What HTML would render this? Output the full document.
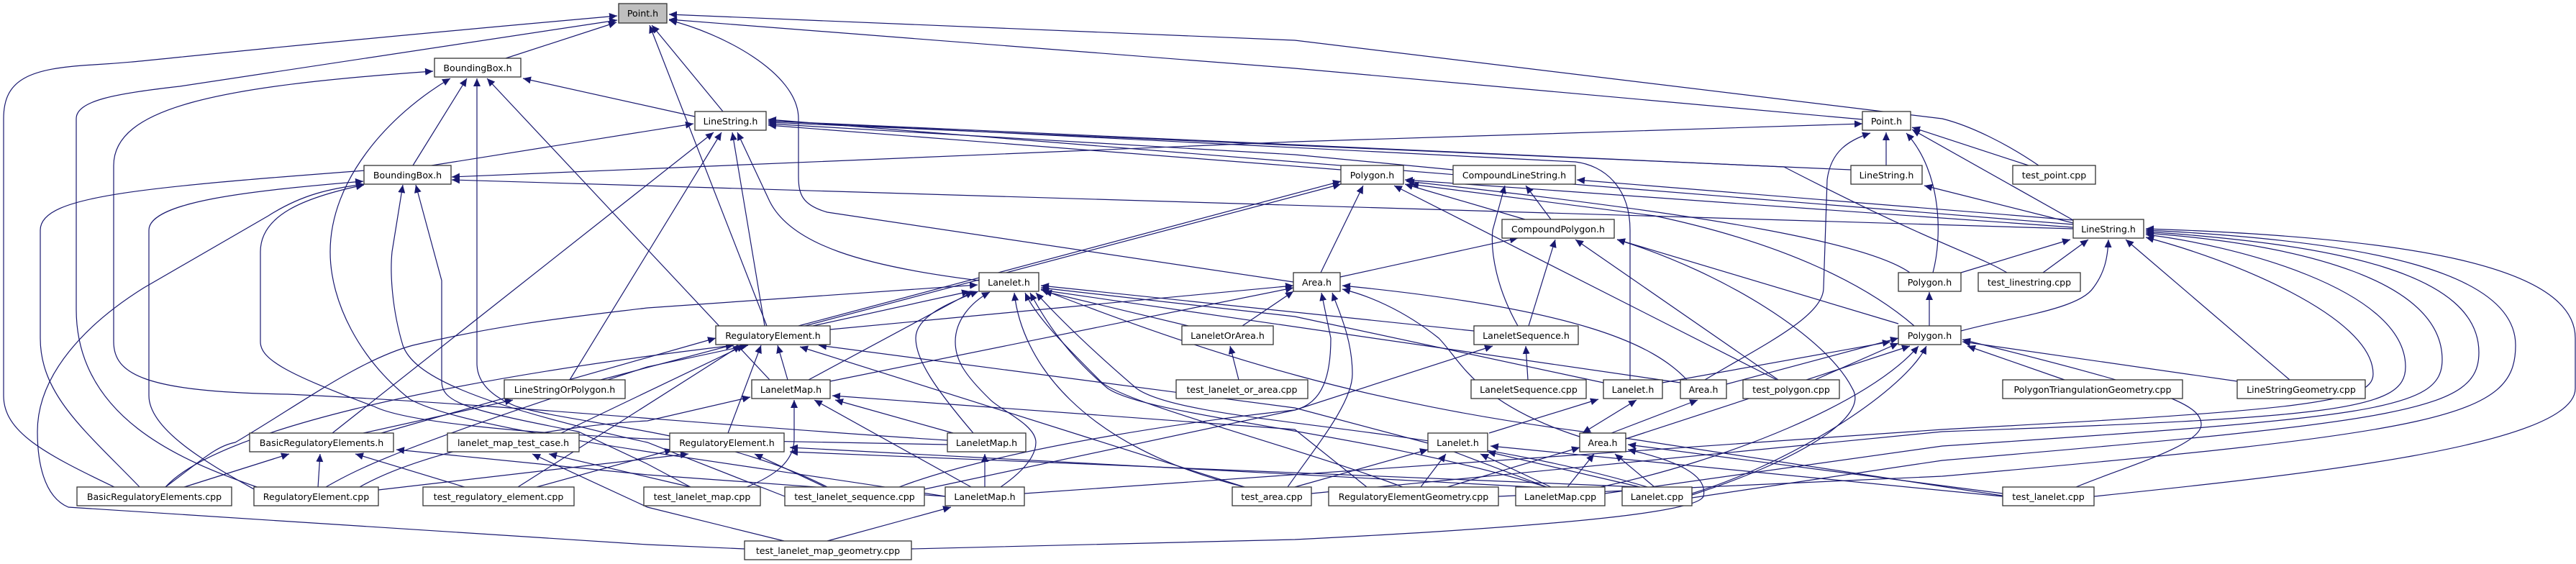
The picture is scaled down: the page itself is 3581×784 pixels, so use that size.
<!DOCTYPE html>
<html><head><meta charset="utf-8"><style>
html,body{margin:0;padding:0;background:#fff;}
svg{display:block;}
text{font-family:"DejaVu Sans","Liberation Sans",sans-serif;font-size:12.6px;fill:#000;}
</style></head><body>
<svg width="3581" height="784" viewBox="0 0 3581 784" xmlns="http://www.w3.org/2000/svg">
<defs>
<marker id="a" markerUnits="userSpaceOnUse" markerWidth="12" markerHeight="10" refX="11" refY="5" orient="auto"><path d="M0,0 L11,5 L0,10 z" fill="#191970"/></marker>
<marker id="s" markerUnits="userSpaceOnUse" markerWidth="12" markerHeight="10" refX="1" refY="5" orient="auto"><path d="M12,0 L1,5 L12,10 z" fill="#191970"/></marker>
</defs>
<g fill="none" stroke="#191970" stroke-width="1.2" marker-end="url(#a)">
<path d="M703,81 L857,31"/>
<path d="M1005,155 L906,35"/>
<path d="M1066,453 L903,35"/>
<path d="M1798,392 L1150,295 C1115,285 1110,270 1110,245 L1110,165 C1110,100 1000,45 930,28"/>
<path d="M2589,166 L1800,95 L930,27"/>
<path d="M2834,230 C2790,200 2740,175 2700,165 L1800,56 L930,20"/>
<path d="M161,678 C60,630 5,600 5,550 L5,165 C5,110 40,95 130,90 C220,85 230,78 858,22"/>
<path d="M360,678 C250,640 106,580 106,430 L106,165 C106,140 160,130 250,120 L858,28"/>
<path d="M966,162 L727,109"/>
<path d="M574,230 L649,109"/>
<path d="M1070,528 L677,109"/>
<path d="M1317,612 C1000,592 700,562 400,548 C200,545 158,520 158,475 L158,230 C158,150 300,120 602,99"/>
<path d="M1314,690 C1000,640 650,600 570,555 C500,500 459,420 459,350 C459,250 540,160 626,109"/>
<path d="M1150,677 C1000,600 800,590 718,565 C680,550 663,530 663,505 L663,109"/>
<path d="M195,678 C120,600 56,550 56,470 L56,320 C56,270 200,260 600,230 L964,172"/>
<path d="M462,602 L992,184"/>
<path d="M792,528 L1003,184"/>
<path d="M1063,453 L1018,184"/>
<path d="M1361,390 C1200,370 1100,340 1070,280 L1025,184"/>
<path d="M2573,236 L1068,170"/>
<path d="M2882,312 L1068,166"/>
<path d="M2790,379 C2740,350 2700,345 2480,232 L1068,168"/>
<path d="M2266,528 L2266,320 C2266,260 2230,230 2190,225 L1068,168"/>
<path d="M2020,236 L1800,215 L1068,172"/>
<path d="M1864,236 L1068,174"/>
<path d="M353,680 C300,650 207,600 207,550 L207,320 C207,280 350,265 505,252"/>
<path d="M1035,763 L900,757 L95,705 C60,690 52,640 52,600 C52,520 120,450 200,400 L373,300 C420,270 460,262 506,256"/>
<path d="M1317,618 L900,610 C700,600 560,585 520,565 C400,520 362,500 362,475 L362,350 C362,300 420,275 506,257"/>
<path d="M1091,690 L900,615 C650,560 574,520 560,480 C545,430 542,380 545,350 L560,257"/>
<path d="M960,677 L900,645 L804,600 C650,570 614,560 614,530 L614,390 L578,257"/>
<path d="M2589,172 L1800,197 L628,246" marker-start="url(#s)"/>
<path d="M2882,318 L628,250"/>
<path d="M1110,453 L1864,252"/>
<path d="M835,528 L1864,256"/>
<path d="M1836,379 L1895,258"/>
<path d="M2882,316 L1953,250"/>
<path d="M2661,453 C2600,400 2489,340 2300,300 L1961,256"/>
<path d="M2470,528 L1938,258"/>
<path d="M2120,305 L1953,256"/>
<path d="M2655,379 C2600,340 2400,300 1955,252"/>
<path d="M2110,453 C2080,400 2072,350 2075,320 L2092,258"/>
<path d="M2156,305 L2121,258"/>
<path d="M2882,306 L2192,250"/>
<path d="M1863,385 L2110,331"/>
<path d="M2125,453 L2162,333"/>
<path d="M2472,528 L2190,333"/>
<path d="M2352,688 C2500,640 2600,580 2575,540 C2540,470 2400,380 2248,333"/>
<path d="M2639,450 L2248,333"/>
<path d="M1130,453 L1348,405"/>
<path d="M1124,528 L1353,405"/>
<path d="M230,677 C280,640 300,620 327,615 C420,560 500,500 574,480 C700,450 800,440 900,428 L1359,396"/>
<path d="M1353,602 C1300,540 1273,500 1273,470 C1273,440 1320,420 1360,405"/>
<path d="M1391,677 C1430,650 1440,630 1440,615 C1440,590 1390,570 1376,555 C1340,520 1328,500 1328,475 C1328,445 1350,420 1376,406"/>
<path d="M1652,453 L1451,405"/>
<path d="M2049,460 L1447,397"/>
<path d="M2229,532 L1800,440 L1447,400"/>
<path d="M2336,532 L1447,403"/>
<path d="M1730,677 C1500,620 1420,500 1410,407"/>
<path d="M1950,677 C1800,620 1560,560 1530,530 C1480,480 1440,440 1425,407"/>
<path d="M2150,677 C1900,600 1600,580 1540,540 C1480,490 1450,440 1432,407"/>
<path d="M2290,677 C2000,590 1650,590 1580,540 C1510,480 1470,440 1440,407"/>
<path d="M2790,690 L2200,600 C1900,560 1700,500 1447,402"/>
<path d="M1727,453 L1798,405"/>
<path d="M1154,458 L1798,397"/>
<path d="M1154,530 L1798,400"/>
<path d="M1250,677 C1400,620 1700,580 1800,570 C1840,560 1850,520 1850,470 L1837,407"/>
<path d="M1790,677 C1830,620 1880,560 1880,520 C1880,470 1860,430 1852,407"/>
<path d="M2196,607 C2050,560 2030,500 2000,470 C1950,430 1900,410 1866,402"/>
<path d="M2345,528 C2300,480 2200,430 1866,397"/>
<path d="M253,678 L402,631"/>
<path d="M442,678 L445,631"/>
<path d="M649,678 L494,631"/>
<path d="M1314,690 L900,660 L551,625"/>
<path d="M505,602 L713,556"/>
<path d="M1090,752 L900,705 L740,631"/>
<path d="M960,677 L763,631"/>
<path d="M780,602 L1035,480"/>
<path d="M526,681 L957,631"/>
<path d="M453,677 C500,650 560,620 900,510 L1040,480"/>
<path d="M230,677 C300,600 600,530 1020,480"/>
<path d="M720,677 L1030,480"/>
<path d="M530,602 L995,470"/>
<path d="M1095,528 L1081,480"/>
<path d="M1012,602 L1058,480"/>
<path d="M2150,677 L2000,620 L1800,567 L1138,480"/>
<path d="M1730,677 L1112,482"/>
<path d="M1350,677 L1132,556"/>
<path d="M1038,677 C1080,660 1104,640 1104,610 L1104,556"/>
<path d="M1325,602 L1161,556"/>
<path d="M1900,677 L1800,597 L1157,550"/>
<path d="M500,677 C600,620 800,590 900,585 L1043,552"/>
<path d="M2130,677 L1098,622"/>
<path d="M2280,677 L1098,628"/>
<path d="M1147,677 L1049,631"/>
<path d="M746,677 L935,625"/>
<path d="M1369,677 L1369,631"/>
<path d="M2070,602 L2222,555"/>
<path d="M1285,680 L1800,570 L2075,481"/>
<path d="M2124,528 L2121,481"/>
<path d="M2200,602 L2275,556" marker-start="url(#s)"/>
<path d="M2240,602 L2360,556"/>
<path d="M2179,677 L2216,631"/>
<path d="M2012,677 L2196,622"/>
<path d="M2300,677 L2245,631"/>
<path d="M2784,686 L2263,618"/>
<path d="M1267,763 L1800,750 C2200,730 2360,710 2368,690 C2375,660 2330,640 2263,625"/>
<path d="M1800,677 L1985,625"/>
<path d="M1975,677 L2010,631"/>
<path d="M2156,677 L2058,631"/>
<path d="M2280,677 L2068,628"/>
<path d="M2784,690 L2072,620"/>
<path d="M2400,534 L2639,470"/>
<path d="M2370,528 C2450,480 2535,440 2535,400 L2540,250 C2545,210 2570,195 2600,185"/>
<path d="M2523,528 L2639,477"/>
<path d="M2311,532 L2628,475"/>
<path d="M2260,610 L2655,481"/>
<path d="M2225,677 C2400,640 2600,560 2667,481"/>
<path d="M2352,686 C2500,640 2650,540 2678,481"/>
<path d="M2870,528 L2735,481"/>
<path d="M3110,530 L2728,475"/>
<path d="M2886,677 C2950,650 3060,620 3060,590 C3060,560 3000,540 2728,472"/>
<path d="M2682,453 L2682,406"/>
<path d="M2726,460 C2800,440 2890,430 2910,400 C2925,380 2930,360 2931,333"/>
<path d="M2726,379 L2878,333"/>
<path d="M2687,379 C2700,330 2700,240 2650,185"/>
<path d="M2840,379 L2903,333"/>
<path d="M3183,528 L2955,333"/>
<path d="M2882,310 L2675,258"/>
<path d="M2622,230 L2622,184"/>
<path d="M2882,306 L2658,180"/>
<path d="M2820,230 L2658,177"/>
<path d="M1722,528 L1710,481"/>
<path d="M1150,752 L1322,705"/>
<path d="M1424,686 L2700,597 C3200,570 3299,560 3299,520 C3299,440 3100,360 2983,330"/>
<path d="M1823,686 L2700,600 C3250,580 3344,570 3344,510 C3344,400 3100,340 2983,326"/>
<path d="M2231,686 L2700,620 C3300,580 3395,570 3395,500 C3395,390 3200,340 2983,324"/>
<path d="M2352,692 L2700,640 C3350,585 3446,570 3446,490 C3446,380 3250,340 2983,322"/>
<path d="M2083,690 L2700,662 C3400,600 3497,580 3497,480 C3497,380 3300,335 2983,320"/>
<path d="M2911,690 C3200,660 3580,620 3580,540 L3580,470 C3580,370 3350,330 2983,318"/>
</g>
<g stroke="#333" stroke-width="1.3" fill="#fff">
<rect x="860" y="5" width="67" height="27" fill="#bfbfbf"/>
<rect x="604" y="81" width="120" height="26"/>
<rect x="966" y="155" width="99" height="26"/>
<rect x="2589" y="155" width="67" height="26"/>
<rect x="506" y="230" width="121" height="26"/>
<rect x="1864" y="230" width="87" height="26"/>
<rect x="2020" y="230" width="170" height="26"/>
<rect x="2573" y="230" width="99" height="26"/>
<rect x="2798" y="230" width="115" height="26"/>
<rect x="2088" y="305" width="156" height="26"/>
<rect x="2882" y="305" width="98" height="26"/>
<rect x="1361" y="379" width="83" height="26"/>
<rect x="1798" y="379" width="65" height="26"/>
<rect x="2639" y="379" width="87" height="26"/>
<rect x="2750" y="379" width="142" height="26"/>
<rect x="995" y="453" width="159" height="26"/>
<rect x="1643" y="453" width="127" height="26"/>
<rect x="2049" y="453" width="145" height="26"/>
<rect x="2639" y="453" width="87" height="26"/>
<rect x="701" y="528" width="168" height="26"/>
<rect x="1045" y="528" width="109" height="26"/>
<rect x="1635" y="528" width="183" height="26"/>
<rect x="2045" y="528" width="160" height="26"/>
<rect x="2229" y="528" width="82" height="26"/>
<rect x="2336" y="528" width="64" height="26"/>
<rect x="2423" y="528" width="134" height="26"/>
<rect x="2784" y="528" width="250" height="26"/>
<rect x="3110" y="528" width="178" height="26"/>
<rect x="347" y="602" width="200" height="26"/>
<rect x="622" y="602" width="183" height="26"/>
<rect x="931" y="602" width="159" height="26"/>
<rect x="1317" y="602" width="109" height="26"/>
<rect x="1985" y="602" width="83" height="26"/>
<rect x="2196" y="602" width="64" height="26"/>
<rect x="107" y="677" width="215" height="26"/>
<rect x="353" y="677" width="173" height="26"/>
<rect x="588" y="677" width="210" height="26"/>
<rect x="895" y="677" width="162" height="26"/>
<rect x="1091" y="677" width="194" height="26"/>
<rect x="1314" y="677" width="110" height="26"/>
<rect x="1713" y="677" width="110" height="26"/>
<rect x="1847" y="677" width="236" height="26"/>
<rect x="2107" y="677" width="124" height="26"/>
<rect x="2255" y="677" width="97" height="26"/>
<rect x="2784" y="677" width="127" height="26"/>
<rect x="1035" y="752" width="232" height="26"/>
</g>
<g text-anchor="middle">
<text x="893.5" y="23">Point.h</text>
<text x="664" y="99">BoundingBox.h</text>
<text x="1015.5" y="173">LineString.h</text>
<text x="2622.5" y="173">Point.h</text>
<text x="566.5" y="248">BoundingBox.h</text>
<text x="1907.5" y="248">Polygon.h</text>
<text x="2105" y="248">CompoundLineString.h</text>
<text x="2622.5" y="248">LineString.h</text>
<text x="2855.5" y="248">test_point.cpp</text>
<text x="2166" y="323">CompoundPolygon.h</text>
<text x="2931" y="323">LineString.h</text>
<text x="1402.5" y="397">Lanelet.h</text>
<text x="1830.5" y="397">Area.h</text>
<text x="2682.5" y="397">Polygon.h</text>
<text x="2821" y="397">test_linestring.cpp</text>
<text x="1074.5" y="471">RegulatoryElement.h</text>
<text x="1706.5" y="471">LaneletOrArea.h</text>
<text x="2121.5" y="471">LaneletSequence.h</text>
<text x="2682.5" y="471">Polygon.h</text>
<text x="785" y="546">LineStringOrPolygon.h</text>
<text x="1099.5" y="546">LaneletMap.h</text>
<text x="1726.5" y="546">test_lanelet_or_area.cpp</text>
<text x="2125" y="546">LaneletSequence.cpp</text>
<text x="2270" y="546">Lanelet.h</text>
<text x="2368" y="546">Area.h</text>
<text x="2490" y="546">test_polygon.cpp</text>
<text x="2909" y="546">PolygonTriangulationGeometry.cpp</text>
<text x="3199" y="546">LineStringGeometry.cpp</text>
<text x="447" y="620">BasicRegulatoryElements.h</text>
<text x="713.5" y="620">lanelet_map_test_case.h</text>
<text x="1010.5" y="620">RegulatoryElement.h</text>
<text x="1371.5" y="620">LaneletMap.h</text>
<text x="2026.5" y="620">Lanelet.h</text>
<text x="2228" y="620">Area.h</text>
<text x="214.5" y="695">BasicRegulatoryElements.cpp</text>
<text x="439.5" y="695">RegulatoryElement.cpp</text>
<text x="693" y="695">test_regulatory_element.cpp</text>
<text x="976" y="695">test_lanelet_map.cpp</text>
<text x="1188" y="695">test_lanelet_sequence.cpp</text>
<text x="1369" y="695">LaneletMap.h</text>
<text x="1768" y="695">test_area.cpp</text>
<text x="1965" y="695">RegulatoryElementGeometry.cpp</text>
<text x="2169" y="695">LaneletMap.cpp</text>
<text x="2303.5" y="695">Lanelet.cpp</text>
<text x="2847.5" y="695">test_lanelet.cpp</text>
<text x="1151" y="770">test_lanelet_map_geometry.cpp</text>
</g>
</svg>
</body></html>
